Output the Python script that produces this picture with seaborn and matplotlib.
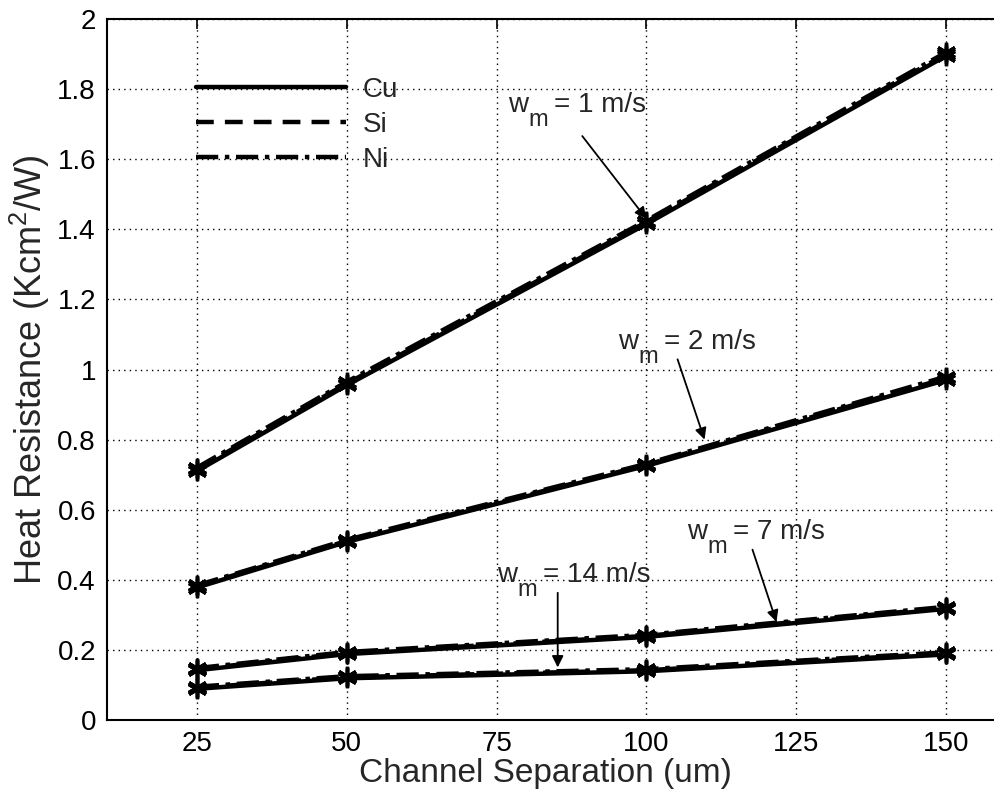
import matplotlib
matplotlib.use("Agg")
import matplotlib.pyplot as plt
from matplotlib.lines import Line2D
import seaborn as sns
import pandas as pd

# Channel separation (um)
separation = [25, 50, 100, 150]

# Heat resistance (K cm^2 / W) per coolant velocity and wall material
cu_w1 = [0.710, 0.955, 1.415, 1.895]
si_w1 = [0.715, 0.960, 1.420, 1.900]
ni_w1 = [0.720, 0.965, 1.425, 1.905]

cu_w2 = [0.378, 0.508, 0.725, 0.970]
si_w2 = [0.381, 0.511, 0.728, 0.975]
ni_w2 = [0.384, 0.514, 0.731, 0.980]

cu_w7 = [0.142, 0.188, 0.237, 0.317]
si_w7 = [0.145, 0.191, 0.240, 0.320]
ni_w7 = [0.148, 0.194, 0.243, 0.323]

cu_w14 = [0.089, 0.119, 0.139, 0.187]
si_w14 = [0.092, 0.122, 0.142, 0.190]
ni_w14 = [0.095, 0.125, 0.145, 0.193]

materials = ["Cu", "Si", "Ni"]
speeds = [1, 2, 7, 14]
series = {
    ("Cu", 1): cu_w1, ("Si", 1): si_w1, ("Ni", 1): ni_w1,
    ("Cu", 2): cu_w2, ("Si", 2): si_w2, ("Ni", 2): ni_w2,
    ("Cu", 7): cu_w7, ("Si", 7): si_w7, ("Ni", 7): ni_w7,
    ("Cu", 14): cu_w14, ("Si", 14): si_w14, ("Ni", 14): ni_w14,
}

rows = []
for (mat, spd), vals in series.items():
    for x, y in zip(separation, vals):
        rows.append({"sep": x, "R": y, "material": mat, "speed": spd})
df = pd.DataFrame(rows)

sns.set_theme(style="white")
plt.rcParams["font.family"] = ["Liberation Sans", "DejaVu Sans"]
plt.rcParams["mathtext.fontset"] = "custom"
plt.rcParams["mathtext.rm"] = "Liberation Sans"

W, H = 995, 795
fig = plt.figure(figsize=(W / 100, H / 100), dpi=100)
fig.patch.set_facecolor("white")
AX_L, AX_R, AX_T, AX_B = 107, 1006, 19, 720
ax = fig.add_axes([AX_L / W, (H - AX_B) / H, (AX_R - AX_L) / W, (AX_B - AX_T) / H])
ax.set_facecolor("white")

styles = {"Cu": "-", "Si": (0, (4, 2.5)), "Ni": (0, (5, 1.5, 1, 1.5))}

for spd in speeds:
    for mat in materials:
        sub = df[(df["material"] == mat) & (df["speed"] == spd)]
        sns.lineplot(data=sub, x="sep", y="R", ax=ax, color="black",
                     linewidth=3.2, linestyle=styles[mat],
                     marker=(6, 2, 0), markersize=14, markeredgewidth=2.4,
                     markeredgecolor="black", estimator=None, legend=False)

ax.set_xlim(10, 160)
ax.set_ylim(0, 2)
ax.set_xticks([25, 50, 75, 100, 125, 150])
yt = [0, 0.2, 0.4, 0.6, 0.8, 1.0, 1.2, 1.4, 1.6, 1.8, 2.0]
ax.set_yticks(yt)
ax.set_yticklabels(["0", "0.2", "0.4", "0.6", "0.8", "1", "1.2", "1.4", "1.6", "1.8", "2"])
ax.tick_params(direction="in", length=7, width=1.2, labelsize=20, pad=8,
               colors="black", top=True, right=False)
ax.grid(True, linestyle=(0, (1, 3)), linewidth=1.0, color="black")
for s in ax.spines.values():
    s.set_color("black")
    s.set_linewidth(1.5)
ax.spines["right"].set_visible(False)

ax.set_xlabel("Channel Separation (um)", fontsize=24)
ax.set_ylabel("Heat Resistance (Kcm$^\\mathregular{2}$/W)", fontsize=26)
ax.xaxis.set_label_coords((545 - AX_L) / (AX_R - AX_L), -(758 - AX_B) / (AX_B - AX_T))
ax.yaxis.set_label_coords(-(107 - 52) / (AX_R - AX_L), 0.5)

handles = [Line2D([0], [0], color="black", lw=3.2, linestyle=styles[m]) for m in materials]
ax.legend(handles, materials, loc="upper left", frameon=False, fontsize=20,
          handlelength=5.4, handletextpad=0.6, labelspacing=0.32,
          borderaxespad=0, borderpad=0,
          bbox_to_anchor=(196 / W, 1 - 77 / H), bbox_transform=fig.transFigure)

arrow = dict(arrowstyle="-|>", color="black", lw=1.3, mutation_scale=17,
             shrinkA=0, shrinkB=0)
notes = [
    ("1", (100.0, 1.43), (89.3, 1.666), (508, 105)),
    ("2", (109.7, 0.80), (105.2, 1.029), (618, 342)),
    ("7", (121.7, 0.28), (117.7, 0.486), (687, 532)),
    ("14", (85.2, 0.15), (85.2, 0.363), (497, 575)),
]
for spd_txt, tip, start, (tx, ty) in notes:
    ax.annotate("", xy=tip, xytext=start, arrowprops=arrow)
    fig.text(tx / W, 1 - ty / H, "w", fontsize=20, ha="left", va="center")
    fig.text((tx + 20) / W, 1 - (ty + 15) / H, "m", fontsize=17, ha="left", va="center")
    fig.text((tx + 46) / W, 1 - ty / H, "= %s m/s" % spd_txt, fontsize=20,
             ha="left", va="center")

fig.savefig("out.png", dpi=100, facecolor="white")
